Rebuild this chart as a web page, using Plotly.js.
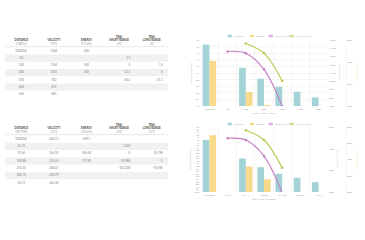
<!DOCTYPE html>
<html><head><meta charset="utf-8">
<script src="https://cdn.plot.ly/plotly-3.0.1.min.js"></script>
<style>html,body{margin:0;padding:0;background:#fff;}#chart{width:365px;height:240px;}</style>
</head><body><div id="chart"></div>
<script>
// ---------- data ----------
const catsYd = ['MUZZLE','50','100','200','300','400','500'];
const catsM  = ['MUZZLE','45.72','91.44','182.88','274.32','365.76','457.2'];
const velFps  = [1444, null, 1162, 1031, 932, 872, 805];
const enFtlb  = [405, null, 263, 205, null, null, null];
const shortIn = [null, 1.3, 0, -12.2, -40.2, null, null];
const longIn  = [null, null, 7.4, 0, -21.1, null, null];
const velMs   = [440.13, null, 354.18, 314.25, 284.07, 265.79, 245.36];
const enJ     = [549.10, null, 356.58, 277.94, null, null, null];
const shortCm = [null, 3.302, 0, -30.988, -102.108, null, null];
const longCm  = [null, null, 18.796, 0, -53.594, null, null];
const headYd = ['DISTANCE','VELOCITY','ENERGY','TRAJ<br>SHORT RANGE','TRAJ<br>LONG RANGE'];
const unitYd = ['(YARDS)','(FPS)','(FT-LBS)','(IN)','(IN)'];
const headM  = ['DISTANCE','VELOCITY','ENERGY','TRAJ<br>SHORT RANGE','TRAJ<br>LONG RANGE'];
const unitM  = ['(METERS)','(M/S)','(JOULES)','(CM)','(CM)'];
const legendNames = ['VELOCITY','ENERGY','SHORT RANGE','LONG RANGE'];

// ---------- style ----------
const TEAL='#a3d3d6', YELLOW='#f7d98a', PURPLE='#c47cc2', GREEN='#b8c94a';
const GRID='#ececec', TXT='#999', HEAD='#4a4a4a';
const W=365, H=240;
const px=v=>v/W, py=v=>1-v/H;
const FONT='Lato, "Open Sans", sans-serif';
const colAnchor=[0,1,2,3.34,4.34], colPos=['middle center','middle center','middle center','middle left','middle left'];

const fmt = v => v===null ? '' : String(v);

// table as text scatter on hidden axes
function tableTraces(cols, head, unit, xa, ya){
  const X=[],Y=[],T=[],P=[];
  cols.forEach((col,c)=>col.forEach((v,r)=>{X.push(colAnchor[c]);Y.push(r);T.push(fmt(v));P.push(colPos[c]);}));
  const HX=[],HY=[],HT=[];
  head.forEach((h,c)=>{HX.push(c);HY.push(-0.75);HT.push('<b>'+h+'</b><br><span style="color:#a8a8a8">'+unit[c]+'</span>');});
  return [
    {type:'scatter', mode:'text', x:X, y:Y, text:T, textposition:P, xaxis:xa, yaxis:ya, cliponaxis:false, hoverinfo:'skip',
      textfont:{family:FONT,size:2.9,color:'#7d7d7d'}},
    {type:'scatter', mode:'text', x:HX, y:HY, text:HT, textposition:'top center', xaxis:xa, yaxis:ya, cliponaxis:false, hoverinfo:'skip',
      textfont:{family:FONT,size:2.8,color:HEAD}}
  ];
}

const traces = [
  ...tableTraces([catsYd, velFps, enFtlb, shortIn, longIn], headYd, unitYd, 'x3', 'y7'),
  ...tableTraces([catsM, velMs, enJ, shortCm, longCm], headM, unitM, 'x4', 'y8'),
  {type:'bar', x:catsYd, y:velFps, xaxis:'x', yaxis:'y', marker:{color:TEAL}, offsetgroup:'v', alignmentgroup:'a1', name:'VELOCITY'},
  {type:'bar', x:catsYd, y:enFtlb, xaxis:'x', yaxis:'y2', marker:{color:YELLOW}, offsetgroup:'e', alignmentgroup:'a1', name:'ENERGY'},
  {type:'scatter', mode:'lines+markers', x:catsYd, y:shortIn, xaxis:'x', yaxis:'y3', line:{color:PURPLE,width:1.1,shape:'spline'}, marker:{size:2.5,color:PURPLE}, name:'SHORT RANGE'},
  {type:'scatter', mode:'lines+markers', x:catsYd, y:longIn, xaxis:'x', yaxis:'y3', line:{color:GREEN,width:1.1,shape:'spline'}, marker:{size:2.5,color:GREEN}, name:'LONG RANGE'},
  {type:'bar', x:catsM, y:velMs, xaxis:'x2', yaxis:'y4', marker:{color:TEAL}, offsetgroup:'v', alignmentgroup:'a2', name:'VELOCITY'},
  {type:'bar', x:catsM, y:enJ, xaxis:'x2', yaxis:'y5', marker:{color:YELLOW}, offsetgroup:'e', alignmentgroup:'a2', name:'ENERGY'},
  {type:'scatter', mode:'lines+markers', x:catsM, y:shortCm, xaxis:'x2', yaxis:'y6', line:{color:PURPLE,width:1.1,shape:'spline'}, marker:{size:2.5,color:PURPLE}, name:'SHORT RANGE'},
  {type:'scatter', mode:'lines+markers', x:catsM, y:longCm, xaxis:'x2', yaxis:'y6', line:{color:GREEN,width:1.1,shape:'spline'}, marker:{size:2.5,color:GREEN}, name:'LONG RANGE'}
];

const tf = {size:2.6, color:TXT, family:FONT};
function xax(anchor, title, dom){return {domain:dom, anchor:anchor, type:'category', tickson:'boundaries', showgrid:true, gridcolor:GRID, gridwidth:0.5, ticks:'', tickangle:0, tickfont:tf, zeroline:false, showline:false,
  title:{text:title, font:{size:2.5,color:'#aaa',family:FONT}, standoff:2}};}
function yvel(dom, anchor, range, dtick, title){return {domain:dom, anchor:anchor, side:'right', range:range, dtick:dtick, tickformat:',d', showgrid:false, zeroline:false, ticks:'', tickfont:tf, showline:false,
  title:{text:title, font:{size:2.5,color:TEAL,family:FONT}, standoff:3}};}
function yen(over, pos, range, dtick, title){return {overlaying:over, anchor:'free', position:pos, side:'right', range:range, dtick:dtick, tickformat:',d', showgrid:false, zeroline:false, ticks:'', tickfont:tf, showline:true, linecolor:GRID, linewidth:0.5,
  title:{text:title, font:{size:2.5,color:YELLOW,family:FONT}, standoff:4}};}
function ytr(over, anchor, range, dtick, title, grid){return {overlaying:over, anchor:anchor, side:'left', range:range, dtick:dtick, showgrid:grid, gridcolor:GRID, gridwidth:0.5, zeroline:false, ticks:'', tickfont:tf,
  title:{text:title, font:{size:2.5,color:'#aaa',family:FONT}, standoff:2}};}
const hid = (dom, range) => ({domain:dom, range:range, visible:false, fixedrange:true});

const topDom=[py(106),py(40)], botDom=[py(192),py(127)];

// legend (layout shapes + annotations), row shading, header underlines
const legX=[228,250,269,290], legC=[TEAL,YELLOW,PURPLE,GREEN];
const shapes=[], annotations=[];
[36,124].forEach(yy=>{
  legendNames.forEach((n,i)=>{
    shapes.push({type:'rect', xref:'paper', yref:'paper', x0:px(legX[i]), x1:px(legX[i]+3.6), y0:py(yy+1), y1:py(yy-1), fillcolor:legC[i], opacity:i<2?1:0.6, line:{width:0.5,color:legC[i]}});
    annotations.push({xref:'paper', yref:'paper', x:px(legX[i]+4.2), y:py(yy), xanchor:'left', yanchor:'middle', showarrow:false, text:n, font:{size:2.3,color:'#aaa',family:FONT}});
  });
});
[['x3','y7'],['x4','y8']].forEach(([xa,ya])=>{
  catsYd.forEach((c,r)=>{ if(r%2) shapes.push({type:'rect', xref:xa, yref:ya, x0:-0.58, x1:4.5, y0:r-0.5, y1:r+0.5, fillcolor:'#f1f1f1', line:{width:0}, layer:'below'}); });
  shapes.push({type:'line', xref:xa, yref:ya, x0:-0.58, x1:4.5, y0:-0.6, y1:-0.6, line:{color:'#d8d8d8',width:0.6}});
});

const layout = {
  width:W, height:H, margin:{l:0,r:0,t:0,b:0}, paper_bgcolor:'#fff', plot_bgcolor:'rgba(0,0,0,0)',
  font:{family:FONT,size:3,color:TXT}, showlegend:false,
  barmode:'group', bargap:0.26, bargroupgap:0,
  xaxis: xax('y', 'DISTANCE (YARDS)', [px(200),px(328)]),
  xaxis2: xax('y4', 'DISTANCE (METERS)', [px(200),px(328)]),
  yaxis: yvel(topDom,'x',[700,1500],100,'VELOCITY (FPS)'),
  yaxis2: yen('y', px(346), [200,500], 100, 'ENERGY (FT-LBS)'),
  yaxis3: ytr('y', 'x', [-40,10], 5, 'TRAJECTORY (IN)', true),
  yaxis4: yvel(botDom,'x2',[200,500],100,'VELOCITY (M/S)'),
  yaxis5: yen('y4', px(346), [200,600], 100, 'ENERGY (JOULES)'),
  yaxis6: ytr('y4', 'x2', [-100,25], 5, 'TRAJECTORY (CM)', false),
  xaxis3: Object.assign(hid([px(5),px(168)],[-0.5,4.5]),{anchor:'y7'}),
  yaxis7: Object.assign(hid([py(97.8),py(33)],[6.5,-2.5]),{anchor:'x3'}),
  xaxis4: Object.assign(hid([px(5),px(168)],[-0.5,4.5]),{anchor:'y8'}),
  yaxis8: Object.assign(hid([py(186.5),py(120.8)],[6.5,-2.5]),{anchor:'x4'}),
  shapes:shapes, annotations:annotations
};
Plotly.newPlot('chart', traces, layout, {staticPlot:true, displayModeBar:false});
</script></body></html>
